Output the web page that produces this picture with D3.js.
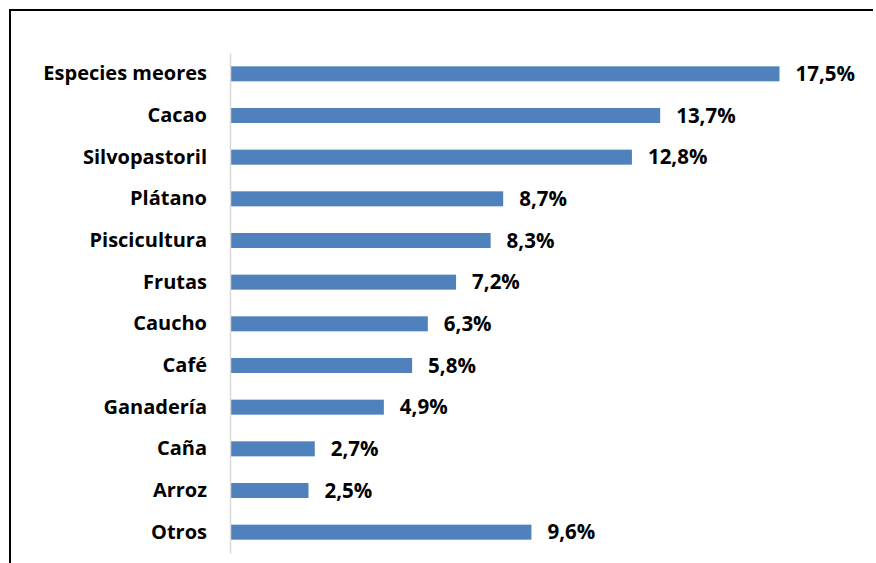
<!DOCTYPE html>
<html>
<head>
<meta charset="utf-8">
<script src="https://cdn.jsdelivr.net/npm/d3@7"></script>
<style>
  body { margin: 0; background: #fff; }
  text { font-family: "Open Sans", "Noto Sans", sans-serif; font-weight: bold; fill: #000; }
</style>
</head>
<body>
<div class="chart"></div>
<script>
// data
var categories = ["Especies meores", "Cacao", "Silvopastoril", "Plátano", "Piscicultura",
  "Frutas", "Caucho", "Café", "Ganadería", "Caña", "Arroz", "Otros"];
var values = [17.5, 13.7, 12.8, 8.7, 8.3, 7.2, 6.3, 5.8, 4.9, 2.7, 2.5, 9.6];
var valueLabels = ["17,5%", "13,7%", "12,8%", "8,7%", "8,3%", "7,2%", "6,3%", "5,8%", "4,9%", "2,7%", "2,5%", "9,6%"];

var svgWidth = 876;
var svgHeight = 563;

var svg = d3.select(".chart")
  .append("svg")
  .attr("width", svgWidth)
  .attr("height", svgHeight);

// frame (top + left only visible)
svg.append("path")
  .attr("d", "M10,563 L10,10 L873,10")
  .attr("fill", "none")
  .attr("stroke", "#000")
  .attr("stroke-width", 2);

var x = d3.scaleLinear()
  .domain([0, 17.5])
  .range([230, 779.5]);

var y = d3.scaleBand()
  .domain(categories)
  .range([53, 553])
  .paddingInner(0.64)
  .paddingOuter(0.32);

// bars
svg.append("g").selectAll("rect")
  .data(values)
  .enter()
  .append("rect")
  .attr("x", x(0))
  .attr("y", function(d, i) { return y(categories[i]); })
  .attr("width", function(d) { return x(d) - x(0); })
  .attr("height", y.bandwidth())
  .attr("fill", "#4f81bd");

// category axis
var leftAxis = d3.axisLeft(y).tickSize(0).tickPadding(23);
var axisG = svg.append("g")
  .attr("transform", "translate(" + x(0) + ",0)")
  .call(leftAxis);
axisG.select(".domain").attr("stroke", "#d9d9d9").attr("stroke-width", 1.5);
axisG.selectAll("text")
  .attr("font-size", 20)
  .style("font-family", "'Open Sans', 'Noto Sans', sans-serif")
  .style("font-weight", "bold")
  .attr("fill", "#000");

// value labels
svg.append("g").selectAll("text")
  .data(values)
  .enter()
  .append("text")
  .attr("x", function(d) { return x(d) + 16; })
  .attr("y", function(d, i) { return y(categories[i]) + y.bandwidth() / 2; })
  .attr("dy", "0.35em")
  .attr("font-size", 20.5)
  .text(function(d, i) { return valueLabels[i]; });
</script>
</body>
</html>
